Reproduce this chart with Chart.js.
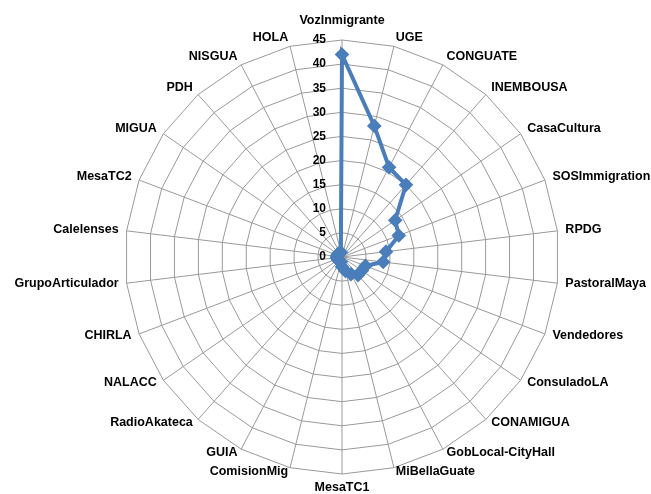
<!DOCTYPE html>
<html>
<head>
<meta charset="utf-8">
<script src="https://cdn.jsdelivr.net/npm/chart.js@4"></script>
<style>
  html, body { margin: 0; padding: 0; background: #fff; }
  #wrap { width: 651px; height: 494px; }
</style>
</head>
<body>
<div id="wrap"><canvas id="radarChart"></canvas></div>
<script>
// Organizations (clockwise from the top)
const categories = [
    'VozInmigrante', 'UGE', 'CONGUATE', 'INEMBOUSA', 'CasaCultura', 'SOSImmigration',
    'RPDG', 'PastoralMaya', 'Vendedores', 'ConsuladoLA', 'CONAMIGUA', 'GobLocal-CityHall',
    'MiBellaGuate', 'MesaTC1', 'ComisionMig', 'GUIA', 'RadioAkateca', 'NALACC', 'CHIRLA',
    'GrupoArticulador', 'Calelenses', 'MesaTC2', 'MIGUA', 'PDH', 'NISGUA', 'HOLA'
];

const values = [
    42, 28, 21, 20, 13.4, 12.6,
    9.2, 8.6, 5.2, 5, 5, 4,
    3, 2, 1, 1, 1, 1, 1,
    1, 1, 1, 1, 1, 1, 1
];

const tickMax = 45;
const tickStep = 5;

const FONT = '"Liberation Sans", Arial, sans-serif';

// tick labels sit left of the vertical axis, like the original
const leftTicks = {
    id: 'leftTicks',
    afterDatasetsDraw(chart) {
        const scale = chart.scales.r;
        const ctx = chart.ctx;
        ctx.save();
        ctx.font = 'bold 12px ' + FONT;
        ctx.fillStyle = '#000';
        ctx.textAlign = 'right';
        ctx.textBaseline = 'middle';
        scale.ticks.forEach(t => {
            const d = scale.getDistanceFromCenterForValue(t.value);
            ctx.fillText(String(t.value), scale.xCenter - 16, scale.yCenter - d);
        });
        ctx.restore();
    }
};

// category labels placed the way Excel does it (vertically centred beside the spoke)
const spokeLabels = {
    id: 'spokeLabels',
    afterDraw(chart) {
        const scale = chart.scales.r;
        const ctx = chart.ctx;
        ctx.save();
        ctx.font = 'bold 12.5px ' + FONT;
        ctx.fillStyle = '#000';
        ctx.textBaseline = 'middle';
        chart.data.labels.forEach((label, i) => {
            const a = scale.getIndexAngle(i);
            const s = Math.sin(a), c = Math.cos(a);
            const v = scale.getPointPosition(i, scale.drawingArea);
            let x = v.x, y = v.y;
            if (Math.abs(s) < 1e-6) {
                ctx.textAlign = 'center';
                y += c > 0 ? -19 : 14;
            } else {
                ctx.textAlign = s > 0 ? 'left' : 'right';
                x += 8 * s;
                y -= c * (c > 0 ? 9 : 4);
            }
            ctx.fillText(label, x, y);
        });
        ctx.restore();
    }
};

const ctx = document.getElementById('radarChart').getContext('2d');
new Chart(ctx, {
    type: 'radar',
    data: {
        labels: categories,
        datasets: [{
            data: values,
            borderColor: '#4A7EBB',
            backgroundColor: '#4A7EBB',
            borderWidth: 4,
            pointStyle: 'rectRot',
            pointRadius: 4.5,
            pointBackgroundColor: '#4A7EBB',
            pointBorderColor: '#4A7EBB',
            fill: false,
            tension: 0
        }]
    },
    options: {
        responsive: true,
        maintainAspectRatio: false,
        animation: false,
        layout: { padding: { top: 40, bottom: 20, left: 33, right: 0 } },
        scales: {
            r: {
                min: 0,
                max: tickMax,
                beginAtZero: true,
                ticks: { stepSize: tickStep, display: false },
                grid: { color: '#999999', lineWidth: 1, circular: false },
                angleLines: { color: '#999999', lineWidth: 1 },
                pointLabels: { display: false }
            }
        },
        plugins: {
            legend: { display: false },
            tooltip: { enabled: false }
        }
    },
    plugins: [leftTicks, spokeLabels]
});
</script>
</body>
</html>
